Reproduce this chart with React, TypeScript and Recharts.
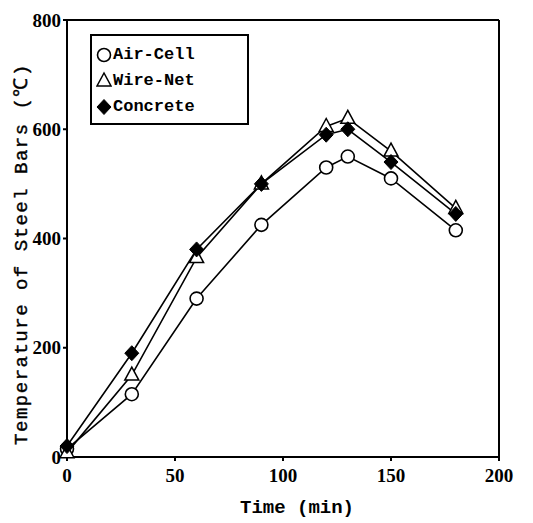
import React from 'react';
import { LineChart, Line, XAxis, YAxis, ReferenceLine } from 'recharts';

const times = [0, 30, 60, 90, 120, 130, 150, 180];
const airCell = [15, 115, 290, 425, 530, 550, 510, 415];
const wireNet = [8, 150, 365, 500, 605, 620, 560, 455];
const concrete = [20, 190, 380, 500, 590, 600, 540, 445];
const xTicks = [0, 50, 100, 150, 200];
const yTicks = [0, 200, 400, 600, 800];

const data = times.map((t, i) => ({ t, air: airCell[i], wire: wireNet[i], conc: concrete[i] }));

const series = [
  { key: 'air', name: 'Air-Cell', shape: 'circle' },
  { key: 'wire', name: 'Wire-Net', shape: 'triangle' },
  { key: 'conc', name: 'Concrete', shape: 'diamond' },
];

function Marker({ shape, cx, cy }: { shape: string; cx: number; cy: number }) {
  if (shape === 'circle') return <circle cx={cx} cy={cy} r={6.5} fill="#fff" stroke="#000" strokeWidth={1.6} />;
  if (shape === 'triangle')
    return <polygon points={`${cx},${cy - 8} ${cx - 7},${cy + 5} ${cx + 7},${cy + 5}`} fill="#fff" stroke="#000" strokeWidth={1.5} />;
  return <polygon points={`${cx},${cy - 7.5} ${cx + 7},${cy} ${cx},${cy + 7.5} ${cx - 7},${cy}`} fill="#000" stroke="#000" strokeWidth={1} />;
}

const mono = '"Liberation Mono", "DejaVu Sans Mono", monospace';
const serif = '"Liberation Serif", "DejaVu Serif", serif';

function LegendBox() {
  return (
    <div
      style={{
        position: 'absolute',
        left: 90,
        top: 34,
        width: 151,
        height: 82,
        border: '2px solid #000',
        padding: '5px 0 0 4px',
        background: '#fff',
      }}
    >
      {series.map((s) => (
        <div key={s.key} style={{ display: 'flex', alignItems: 'center', height: 26 }}>
          <svg width={16} height={20}>
            <Marker shape={s.shape} cx={8} cy={11} />
          </svg>
          <span style={{ fontFamily: mono, fontWeight: 'bold', fontSize: 17, marginLeft: 1 }}>{s.name}</span>
        </div>
      ))}
    </div>
  );
}

const YLabel = () => (
  <text
    x={27}
    y={254}
    transform="rotate(-90, 27, 254)"
    textAnchor="middle"
    fill="#000"
    stroke="#000"
    strokeWidth={0.4}
    style={{ fontFamily: mono, fontSize: 19, letterSpacing: 1.5 }}
  >
    Temperature of Steel Bars (℃)
  </text>
);

const XLabel = () => (
  <text x={297} y={513} textAnchor="middle" fill="#000" style={{ fontFamily: mono, fontWeight: 'bold', fontSize: 19 }}>
    Time (min)
  </text>
);

export default function App() {
  return (
    <div style={{ position: 'absolute', left: 0, top: 0, width: 533, height: 523, background: '#fff' }}>
      <LineChart width={533} height={523} data={data} margin={{ top: 20, right: 34, bottom: 16, left: 22 }}>
        <XAxis
          dataKey="t"
          type="number"
          domain={[0, 200]}
          ticks={xTicks}
          height={50}
          stroke="#000"
          strokeWidth={2}
          tickSize={4}
          tickMargin={8}
          tick={{ fill: '#000', fontFamily: serif, fontWeight: 'bold', fontSize: 19 }}
          label={<XLabel />}
        />
        <YAxis
          type="number"
          domain={[0, 800]}
          ticks={yTicks}
          width={45}
          stroke="#000"
          strokeWidth={2}
          tickSize={4}
          tick={{ fill: '#000', fontFamily: serif, fontWeight: 'bold', fontSize: 19 }}
          label={<YLabel />}
        />
        <ReferenceLine y={800} stroke="#000" strokeWidth={2} />
        <ReferenceLine x={200} stroke="#000" strokeWidth={2} />
        {series.map((s) => (
          <Line
            key={s.key}
            dataKey={s.key}
            name={s.name}
            stroke="#000"
            strokeWidth={1.6}
            isAnimationActive={false}
            dot={(p: any) => <Marker key={`${s.key}-${p.index}`} shape={s.shape} cx={p.cx} cy={p.cy} />}
          />
        ))}
      </LineChart>
      <LegendBox />
    </div>
  );
}
